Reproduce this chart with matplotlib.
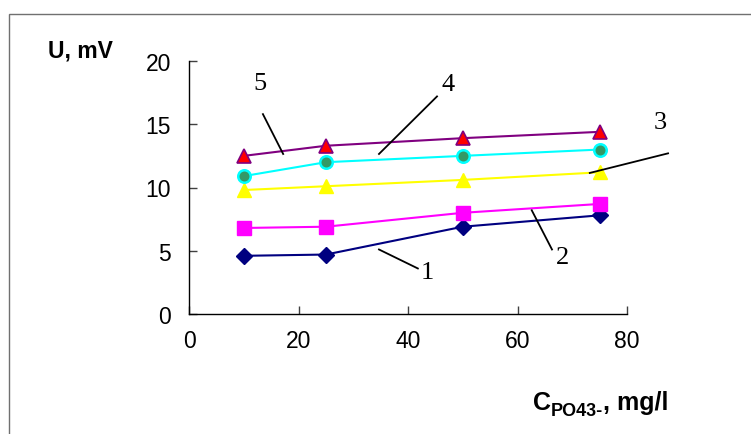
import matplotlib
matplotlib.use("Agg")
import matplotlib.pyplot as plt
from matplotlib.patches import Rectangle

# concentration of PO4(3-), mg/l
conc = [10, 25, 50, 75]

# signal U, mV for curves 1..5
u1 = [4.6, 4.7, 6.9, 7.8]
u2 = [6.8, 6.9, 8.0, 8.7]
u3 = [9.8, 10.1, 10.6, 11.2]
u4 = [10.9, 12.0, 12.5, 13.0]
u5 = [12.5, 13.3, 13.9, 14.4]

x_ticks = [0, 20, 40, 60, 80]
y_ticks = [0, 5, 10, 15, 20]

curve_names = ["1", "2", "3", "4", "5"]
# label text position and leader line (from, to) in data units
label_pos = [(43.5, 3.3), (68.3, 4.5), (86.0, 15.2), (47.3, 18.2), (13.0, 18.3)]
leader_from = [(41.8, 3.6), (66.3, 5.1), (87.5, 12.7), (45.3, 17.2), (13.5, 15.8)]
leader_to = [(34.7, 5.1), (62.6, 8.2), (73.2, 11.15), (34.7, 12.65), (17.2, 12.65)]

plt.rcParams["font.family"] = ["Liberation Sans", "DejaVu Sans"]

fig = plt.figure(figsize=(7.51, 4.35), dpi=100)
fig.patches.append(Rectangle((9 / 751, -0.1), 1.2, 1 - 15 / 435 + 0.1,
                             transform=fig.transFigure, fill=False,
                             edgecolor="#707070", lw=1))

ax = fig.add_axes([189 / 751, 1 - 315 / 435, 438 / 751, 253 / 435])

ax.plot(conc, u1, color="#000080", lw=1.5, marker="D", ms=8,
        mfc="#000080", mec="#000080")
ax.plot(conc, u2, color="#FF00FF", lw=1.5, marker="s", ms=9.5,
        mfc="#FF00FF", mec="#FF00FF")
ax.plot(conc, u3, color="#FFFF00", lw=1.5, marker="^", ms=10,
        mfc="#FFFF00", mec="#FFFF00")
ax.plot(conc, u4, color="#00FFFF", lw=1.5, marker="o", ms=9,
        mfc="#339966", mec="#00FFFF", mew=1.8)
ax.plot(conc, u5, color="#800080", lw=1.5, marker="^", ms=10,
        mfc="#FF0000", mec="#800080", mew=1.2)

for name, pos, p0, p1 in zip(curve_names, label_pos, leader_from, leader_to):
    ax.plot([p0[0], p1[0]], [p0[1], p1[1]], color="black", lw=1.3,
            clip_on=False)
    ax.text(pos[0], pos[1], name, ha="center", va="center", fontsize=19,
            family=["Liberation Serif", "DejaVu Serif"])

ax.set_xlim(0, 80)
ax.set_ylim(0, 20)
ax.set_xticks(x_ticks)
ax.set_yticks(y_ticks)
ax.tick_params(direction="in", length=6, width=1, color="#404040",
               labelsize=16.5)
ax.tick_params(axis="y", pad=13)
ax.tick_params(axis="x", pad=11)
for side in ["top", "right"]:
    ax.spines[side].set_visible(False)
for side in ["left", "bottom"]:
    ax.spines[side].set_color("black")
    ax.spines[side].set_linewidth(1)

fig.text(48 / 751, 1 - 51 / 435, "U, mV", fontsize=16.5, fontweight="bold",
         ha="left", va="center")

# x label with subscript
t1 = fig.text(533 / 751, 1 - 410 / 435, "C", fontsize=18, fontweight="bold",
              ha="left", va="baseline")
t2 = fig.text(0, 0, "PO43-", fontsize=13, fontweight="bold", ha="left",
              va="bottom")
t2.remove()
t2 = ax.annotate("PO43-", xycoords=t1, xy=(1, 0), va="bottom", ha="left",
                 fontsize=13, fontweight="bold", xytext=(0, -3.5),
                 textcoords="offset points", annotation_clip=False)
ax.annotate(", mg/l", xycoords=(t2, t1), xy=(1, 0), va="bottom", ha="left",
            fontsize=18, fontweight="bold", annotation_clip=False)

fig.savefig("out.png", dpi=100)
